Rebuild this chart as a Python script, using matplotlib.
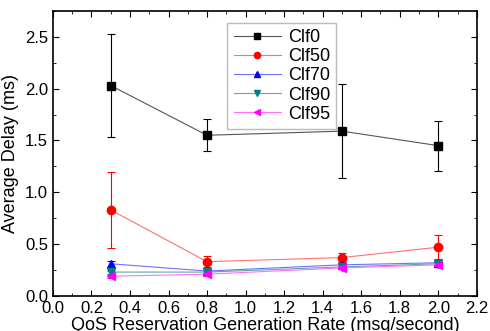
import matplotlib.pyplot as plt
import numpy as np

plt.rcParams['font.family'] = ['Liberation Sans', 'DejaVu Sans']

rate = [0.3, 0.8, 1.5, 2.0]
labels = ['Clf0', 'Clf50', 'Clf70', 'Clf90', 'Clf95']
clf0 = [2.03, 1.55, 1.59, 1.45]
clf0_err = [0.50, 0.155, 0.455, 0.24]
clf50 = [0.83, 0.33, 0.37, 0.47]
clf50_err = [0.37, 0.055, 0.04, 0.115]
clf70 = [0.31, 0.24, 0.30, 0.32]
clf70_err = [0.03, 0.02, 0.02, 0.02]
clf90 = [0.23, 0.23, 0.28, 0.31]
clf90_err = [0.015, 0.015, 0.015, 0.015]
clf95 = [0.19, 0.21, 0.27, 0.30]
clf95_err = [0.015, 0.015, 0.015, 0.015]

fig = plt.figure(figsize=(4.9, 3.31), dpi=100)
ax = fig.add_axes([0.108, 0.106, 0.865, 0.861])

series = [(clf0, clf0_err, 'black', '#555555', 's'),
          (clf50, clf50_err, 'red', '#ff7070', 'o'),
          (clf70, clf70_err, 'blue', '#7070ff', '^'),
          (clf90, clf90_err, '#008080', '#60a8a8', 'v'),
          (clf95, clf95_err, 'magenta', '#ff70ff', '<')]

for (y, e, c, lc, m), lab in zip(series, labels):
    # barras de error aparte, sin etiqueta
    ax.errorbar(rate, y, yerr=e, fmt='none', ecolor=c, elinewidth=0.8,
                capsize=3, capthick=0.8)
    ax.plot(rate, y, color=lc, marker=m, markersize=6, markerfacecolor=c,
            markeredgecolor=c, linewidth=0.8, label=lab)

ax.set_xlim(0, 2.2)
ax.set_ylim(0, 2.75)
ax.set_xticks(np.arange(0, 2.21, 0.2))
ax.set_xticks(np.arange(0, 2.21, 0.1), minor=True)
ax.set_yticks(np.arange(0, 2.51, 0.5))
ax.set_yticks(np.arange(0, 2.76, 0.25), minor=True)
ax.tick_params(which='both', direction='in', top=True, right=True, labelsize=12)
ax.tick_params(which='major', length=4)
ax.tick_params(which='minor', length=2)
for s in ax.spines.values():
    s.set_linewidth(1.2)

ax.set_xlabel('QoS Reservation Generation Rate (msg/second)', fontsize=13, labelpad=1)
ax.set_ylabel('Average Delay (ms)', fontsize=13, labelpad=4)

leg = ax.legend(loc='upper left', bbox_to_anchor=(0.39, 0.99), fontsize=13,
                fancybox=False, edgecolor='#aaaaaa', handlelength=2.6,
                markerscale=0.75, borderpad=0.35, labelspacing=0.12,
                handletextpad=0.4)

fig.savefig('out.png', dpi=100)
